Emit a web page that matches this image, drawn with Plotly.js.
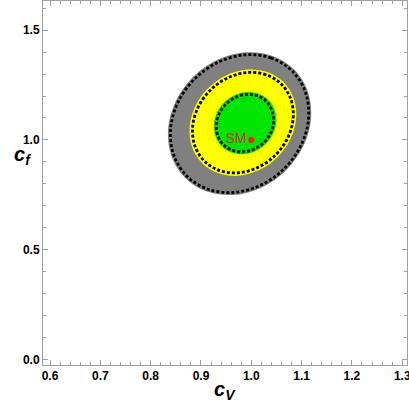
<!DOCTYPE html>
<html>
<head>
<meta charset="utf-8">
<script src="https://cdn.plot.ly/plotly-3.0.1.min.js"></script>
<style>html,body{margin:0;padding:0;background:#fff;}#chart{width:409px;height:410px;}</style>
</head>
<body>
<div id="chart"></div>
<script>
// Filled regions (boundary points)
const grayX = [1.0850,1.0413,0.9877,0.9325,0.8840,0.8496,0.8346,0.8412,0.8685,0.9122,0.9658,1.0210,1.0695,1.1039,1.1189,1.1123];
const grayY = [1.3216,1.3840,1.3991,1.3648,1.2862,1.1754,1.0491,0.9266,0.8266,0.7642,0.7491,0.7834,0.8620,0.9728,1.0991,1.2216];

const yellowX = [1.0641,1.0316,0.9918,0.9506,0.9144,0.8887,0.8774,0.8823,0.9025,0.9350,0.9749,1.0160,1.0522,1.0779,1.0892,1.0844];
const yellowY = [1.2635,1.3097,1.3207,1.2949,1.2361,1.1534,1.0593,0.9681,0.8938,0.8476,0.8366,0.8624,0.9211,1.0039,1.0980,1.1891];

const greenX = [1.0341,1.0147,0.9912,0.9671,0.9462,0.9316,0.9255,0.9290,0.9413,0.9607,0.9842,1.0082,1.0291,1.0437,1.0498,1.0463];
const greenY = [1.1824,1.2106,1.2184,1.2045,1.1712,1.1234,1.0684,1.0147,0.9703,0.9421,0.9343,0.9482,0.9815,1.0294,1.0843,1.1380];

// Dashed contours
const dash3X = [1.0815,1.0393,0.9877,0.9344,0.8875,0.8542,0.8396,0.8458,0.8720,0.9141,0.9658,1.0191,1.0660,1.0993,1.1139,1.1076];
const dash3Y = [1.3135,1.3734,1.3877,1.3543,1.2782,1.1710,1.0491,0.9310,0.8346,0.7748,0.7605,0.7939,0.8700,0.9772,1.0991,1.2172];

const dash2X = [1.0599,1.0293,0.9918,0.9529,0.9186,0.8942,0.8834,0.8878,0.9067,0.9373,0.9749,1.0137,1.0480,1.0724,1.0832,1.0789];
const dash2Y = [1.2538,1.2971,1.3071,1.2823,1.2265,1.1482,1.0593,0.9734,0.9035,0.8602,0.8502,0.8750,0.9308,1.0091,1.0980,1.1839];

const dash1X = [1.0306,1.0128,0.9912,0.9690,0.9497,0.9362,0.9305,0.9335,0.9448,0.9625,0.9842,1.0063,1.0256,1.0390,1.0447,1.0414];
const dash1Y = [1.1744,1.2002,1.2070,1.1940,1.1631,1.1190,1.0684,1.0190,0.9783,0.9525,0.9457,0.9587,0.9896,1.0337,1.0843,1.1295];

// Standard Model point
const smX = [1.0];
const smY = [1.0];
const smLabel = ['SM'];

const xTicks = [0.6,0.7,0.8,0.9,1.0,1.1,1.2,1.3];
const yTicks = [0.0,0.5,1.0,1.5];
const xTitle = '<b><i>c</i></b><sub><b><i>V</i></b></sub>';
const yTitle = '<b><i>c</i></b><sub><b><i>f</i></b></sub>';

function closed(a){ return a.concat([a[0]]); }

function fillTrace(xs, ys, color){
  return {x: closed(xs), y: closed(ys), mode:'lines', fill:'toself', fillcolor: color,
          line:{width:0, shape:'spline', smoothing:1, color: color}, hoverinfo:'skip'};
}
function dashTrace(xs, ys){
  return {x: closed(xs), y: closed(ys), mode:'lines',
          line:{width:2.8, color:'#000', dash:'3px,2px', shape:'spline', smoothing:1}, hoverinfo:'skip'};
}

const traces = [
  fillTrace(grayX, grayY, '#808080'),
  fillTrace(yellowX, yellowY, '#ffff00'),
  fillTrace(greenX, greenY, '#00e600'),
  dashTrace(dash3X, dash3Y),
  dashTrace(dash2X, dash2Y),
  dashTrace(dash1X, dash1Y),
  {x: smX, y: smY, mode:'markers+text', text: smLabel, textposition:'middle left',
   marker:{color:'#ff1a1a', size:6}, textfont:{family:'Arial, Liberation Sans', size:14, color:'#d42a2a'}}
];

const axisCommon = {
  showgrid:false, zeroline:false, showline:true, mirror:'ticks',
  linecolor:'#a0a0a0', linewidth:1, ticks:'inside', ticklen:5, tickcolor:'#a0a0a0', tickwidth:1,
  tickformat:'.1f', tickmode:'array', ticklabeloverflow:'allow',
  tickfont:{family:'Arial, Liberation Sans', size:12, color:'#000', weight:'bold'}
};

const layout = {
  width:409, height:410,
  margin:{l:43, r:2, t:1, b:45},
  paper_bgcolor:'#fff', plot_bgcolor:'#fff',
  showlegend:false,
  xaxis: Object.assign({}, axisCommon, {
    range:[0.586, 1.3095], tickvals: xTicks,
    minor:{dtick:0.02, tick0:0, ticks:'inside', ticklen:3, tickcolor:'#a0a0a0', showgrid:false}
  }),
  yaxis: Object.assign({}, axisCommon, {
    range:[-0.026, 1.633], tickvals: yTicks,
    minor:{dtick:0.1, tick0:0, ticks:'inside', ticklen:3, tickcolor:'#a0a0a0', showgrid:false}
  }),
  annotations:[{
    xref:'paper', yref:'paper', x:0.5, y:-0.031, xanchor:'center', yanchor:'top', showarrow:false,
    text: xTitle, font:{family:'Arial, Liberation Sans', size:20, color:'#000'}
  },{
    xref:'paper', yref:'paper', x:-0.085, y:0.616, xanchor:'left', yanchor:'top', showarrow:false,
    text: yTitle, font:{family:'Arial, Liberation Sans', size:20, color:'#000'}
  }]
};

Plotly.newPlot('chart', traces, layout, {staticPlot:true, displayModeBar:false});
</script>
</body>
</html>
